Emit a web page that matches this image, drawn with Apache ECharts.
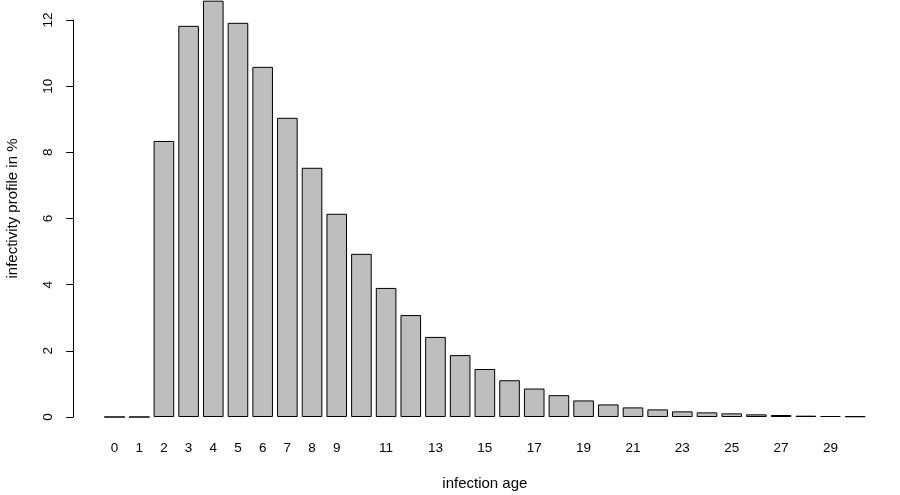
<!DOCTYPE html>
<html><head><meta charset="utf-8">
<script src="https://cdn.jsdelivr.net/npm/echarts@6/dist/echarts.min.js"></script>
<style>html,body{margin:0;padding:0;background:#fff}#c{width:900px;height:495px}</style>
</head><body><div id="c"></div>
<script>
const categories = ['0','1','2','3','4','5','6','7','8','9','10','11','12','13','14','15','16','17','18','19','20','21','22','23','24','25','26','27','28','29','30'];
const shownLabels = ['0','1','2','3','4','5','6','7','8','9','11','13','15','17','19','21','23','25','27','29'];
const values = [0, 0, 8.34, 11.82, 12.58, 11.91, 10.58, 9.04, 7.53, 6.14, 4.93, 3.90, 3.08, 2.42, 1.87, 1.45, 1.11, 0.86, 0.66, 0.50, 0.38, 0.29, 0.23, 0.17, 0.14, 0.11, 0.08, 0.06, 0.04, 0.03, 0.02];
const yTicks = [0, 2, 4, 6, 8, 10, 12];

const font = 'Liberation Sans, Arial, Helvetica, sans-serif';
const chart = echarts.init(document.getElementById('c'), null, {renderer: 'canvas'});
chart.setOption({
  animation: false,
  grid: [
    {left: 102.2, right: 32.5, top: 0, height: 417, containLabel: false, outerBoundsMode: 'none'},
    {left: 102.2, right: 32.5, top: 20, height: 397, containLabel: false, outerBoundsMode: 'none'}
  ],
  xAxis: [
    {type: 'category', gridIndex: 0, data: categories,
     axisLine: {show: false}, axisTick: {show: false},
     axisLabel: {interval: 0, margin: 24, color: '#000', fontFamily: font, fontSize: 13.5,
       formatter: v => shownLabels.includes(v) ? v : ''},
     name: 'infection age', nameLocation: 'middle', nameGap: 59,
     nameTextStyle: {color: '#000', fontFamily: font, fontSize: 15}},
    {type: 'category', gridIndex: 1, data: categories, show: false}
  ],
  yAxis: [
    {type: 'value', gridIndex: 0, min: 0, max: 12.6, offset: 29,
     splitLine: {show: false}, axisLine: {show: false}, axisTick: {show: false}, axisLabel: {show: false},
     name: 'infectivity profile in %', nameLocation: 'middle', nameGap: 53, nameRotate: 90,
     nameTextStyle: {color: '#000', fontFamily: font, fontSize: 15}},
    {type: 'value', gridIndex: 1, min: 0, max: 12, interval: 2, offset: 29,
     splitLine: {show: false},
     axisLine: {show: true, lineStyle: {color: '#000', width: 1}},
     axisTick: {show: true, length: 7, lineStyle: {color: '#000'}},
     axisLabel: {rotate: 90, margin: 18, color: '#000', fontFamily: font, fontSize: 13.5,
       formatter: v => yTicks.includes(v) ? String(v) : ''}}
  ],
  series: [{
    type: 'bar', xAxisIndex: 0, yAxisIndex: 0, data: values,
    barWidth: 20.6,
    itemStyle: {color: '#BEBEBE', borderColor: '#000', borderWidth: 1}
  }]
});
</script></body></html>
